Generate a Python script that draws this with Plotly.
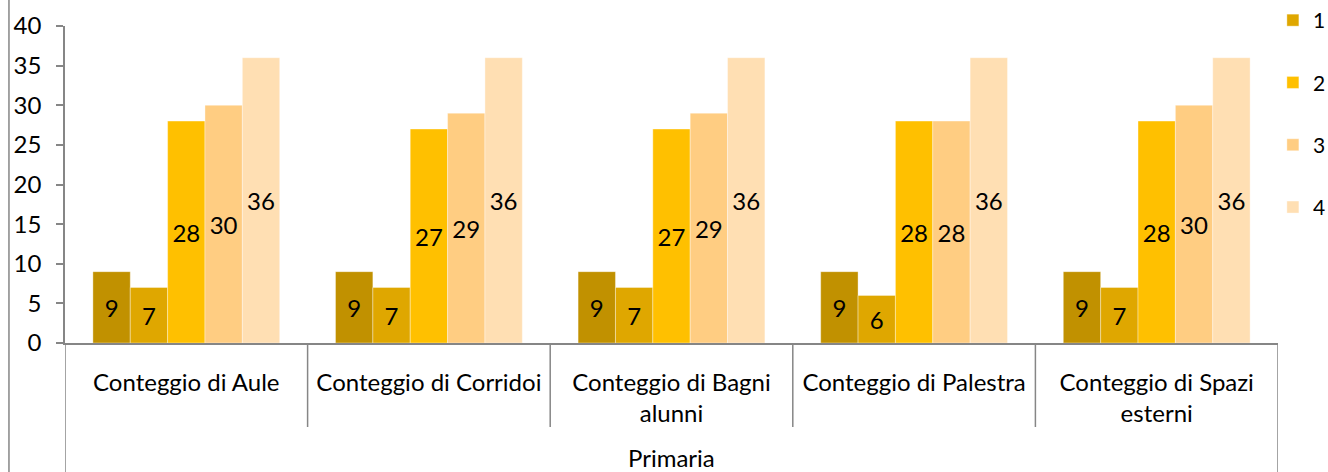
import plotly.graph_objects as go

# Dati
categorie = ["Conteggio di Aule", "Conteggio di Corridoi", "Conteggio di Bagni<br>alunni",
             "Conteggio di Palestra", "Conteggio di Spazi<br>esterni"]
gruppo = "Primaria"
serie_nomi = ["", "1", "2", "3", "4"]
valori = [
    [9, 9, 9, 9, 9],
    [7, 7, 7, 6, 7],
    [28, 27, 27, 28, 28],
    [30, 29, 29, 28, 30],
    [36, 36, 36, 36, 36],
]
colori = ["#C19100", "#DFA700", "#FFC000", "#FFCD82", "#FFDFB3"]
y_ticks = [0, 5, 10, 15, 20, 25, 30, 35, 40]

FONT = "Lato, Calibri, sans-serif"
FS = 24

fig = go.Figure()
for i, (nome, vals, col) in enumerate(zip(serie_nomi, valori, colori)):
    fig.add_trace(go.Bar(
        x=list(range(len(categorie))), y=vals, name=nome,
        marker=dict(color=col, line=dict(color="rgba(255,255,255,0.6)", width=0.6)),
        text=vals, textposition="inside", insidetextanchor="middle",
        textfont=dict(color="black", size=FS, family=FONT),
        textangle=0, showlegend=(nome != ""), legendgroup="g%d" % i,
    ))

grigio = "#868686"
n = len(categorie)
shapes = []
# divisori categorie
for k in range(n + 1):
    outer = k == 0 or k == n
    shapes.append(dict(type="line", xref="x", yref="paper", x0=k - 0.5, x1=k - 0.5,
                       y0=0, y1=-0.407 if outer else -0.265,
                       line=dict(color=grigio, width=1.5)))
# bordo sinistro del grafico
shapes.append(dict(type="line", xref="paper", yref="paper", x0=-0.0462, x1=-0.0462,
                   y0=-0.41, y1=1.09, line=dict(color=grigio, width=1.5)))

fig.update_layout(
    width=1328, height=472,
    margin=dict(l=65, r=50, t=26, b=129, autoexpand=False),
    paper_bgcolor="white", plot_bgcolor="white",
    barmode="group", bargap=0.23, bargroupgap=0,
    font=dict(family=FONT, size=FS, color="black"),
    uniformtext=dict(mode="show", minsize=FS),
    xaxis=dict(tickmode="array", tickvals=list(range(n)), ticktext=categorie,
               range=[-0.5, n - 0.5], showline=True, linecolor=grigio, linewidth=1.5,
               ticks="", showgrid=False, tickfont=dict(size=FS), ticklabelstandoff=17,
               automargin=False),
    yaxis=dict(range=[0, 40], tickvals=y_ticks, showline=True, linecolor=grigio, linewidth=1.5,
               ticks="outside", ticklen=7, tickcolor=grigio, tickwidth=1.5,
               showgrid=False, zeroline=False, tickfont=dict(size=FS), ticklabelstandoff=10,
               automargin=False),
    legend=dict(xref="container", yref="container", x=0.9585, y=1.031, xanchor="left", yanchor="top",
                tracegroupgap=32, font=dict(size=21), itemwidth=30, bgcolor="rgba(0,0,0,0)"),
    shapes=shapes,
    annotations=[dict(text=gruppo, xref="paper", yref="paper", x=0.5, y=-0.362,
                      xanchor="center", yanchor="middle", showarrow=False,
                      font=dict(size=FS))],
)

fig.write_html("out.html", config={"displayModeBar": False},
               post_script="document.body.style.margin='0';")
